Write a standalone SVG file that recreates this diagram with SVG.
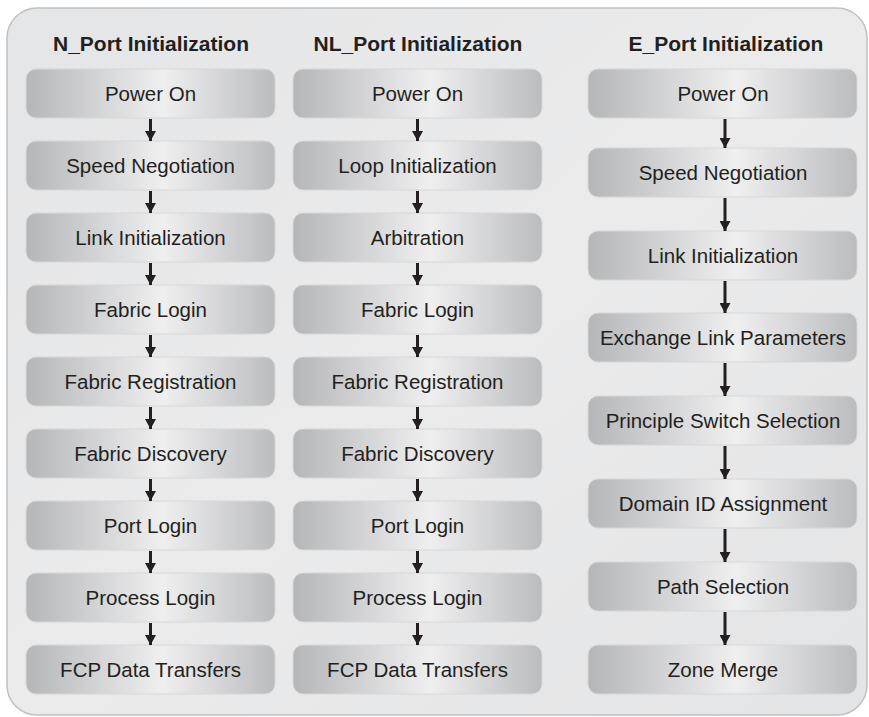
<svg xmlns="http://www.w3.org/2000/svg" width="869" height="717" viewBox="0 0 869 717">
  <defs>
    <linearGradient id="panelFill" x1="0" y1="0" x2="1" y2="1">
      <stop offset="0" stop-color="#e4e5e6"/>
      <stop offset="0.5" stop-color="#ebebec"/>
      <stop offset="1" stop-color="#e3e4e5"/>
    </linearGradient>
    <linearGradient id="boxFill" x1="0" y1="0" x2="1" y2="0">
      <stop offset="0" stop-color="#b5b6b8"/>
      <stop offset="0.55" stop-color="#efeff0"/>
      <stop offset="1" stop-color="#bbbcbe"/>
    </linearGradient>
    <marker id="head" markerUnits="userSpaceOnUse" markerWidth="11" markerHeight="11" refX="10" refY="5.5" orient="auto">
      <path d="M0,0 L10,5.5 L0,11 z" fill="#231f20"/>
    </marker>
    <style>
      .box { fill: url(#boxFill); stroke: #d6d7d8; stroke-width: 1; }
      .lbl { font-family: "Liberation Sans", Arial, sans-serif; font-size: 20.5px; fill: #231f20; text-anchor: middle; }
      .ttl { font-family: "Liberation Sans", Arial, sans-serif; font-size: 21px; font-weight: bold; fill: #231f20; text-anchor: middle; }
      .arr { stroke: #231f20; stroke-width: 3; fill: none; marker-end: url(#head); }
    </style>
  </defs>

  <!-- backing panel -->
  <rect x="7" y="8" width="860" height="707" rx="30" ry="30" fill="url(#panelFill)" stroke="#bfc0c1" stroke-width="1.5"/>

  <!-- column headings -->
  <text class="ttl" x="151" y="51">N_Port Initialization</text>
  <text class="ttl" x="418" y="51">NL_Port Initialization</text>
  <text class="ttl" x="726" y="51">E_Port Initialization</text>

  <!-- N_Port column -->
  <g id="n-power-on"><rect class="box" x="26" y="69" width="249" height="49" rx="10"/><text class="lbl" x="150.5" y="100.5">Power On</text></g>
  <g id="n-speed-negotiation"><rect class="box" x="26" y="141" width="249" height="49" rx="10"/><text class="lbl" x="150.5" y="172.5">Speed Negotiation</text></g>
  <g id="n-link-init"><rect class="box" x="26" y="213" width="249" height="49" rx="10"/><text class="lbl" x="150.5" y="244.5">Link Initialization</text></g>
  <g id="n-fabric-login"><rect class="box" x="26" y="285" width="249" height="49" rx="10"/><text class="lbl" x="150.5" y="316.5">Fabric Login</text></g>
  <g id="n-fabric-registration"><rect class="box" x="26" y="357" width="249" height="49" rx="10"/><text class="lbl" x="150.5" y="388.5">Fabric Registration</text></g>
  <g id="n-fabric-discovery"><rect class="box" x="26" y="429" width="249" height="49" rx="10"/><text class="lbl" x="150.5" y="460.5">Fabric Discovery</text></g>
  <g id="n-port-login"><rect class="box" x="26" y="501" width="249" height="49" rx="10"/><text class="lbl" x="150.5" y="532.5">Port Login</text></g>
  <g id="n-process-login"><rect class="box" x="26" y="573" width="249" height="49" rx="10"/><text class="lbl" x="150.5" y="604.5">Process Login</text></g>
  <g id="n-fcp-data"><rect class="box" x="26" y="645" width="249" height="49" rx="10"/><text class="lbl" x="150.5" y="676.5">FCP Data Transfers</text></g>

  <!-- NL_Port column -->
  <g id="nl-power-on"><rect class="box" x="293" y="69" width="249" height="49" rx="10"/><text class="lbl" x="417.5" y="100.5">Power On</text></g>
  <g id="nl-loop-init"><rect class="box" x="293" y="141" width="249" height="49" rx="10"/><text class="lbl" x="417.5" y="172.5">Loop Initialization</text></g>
  <g id="nl-arbitration"><rect class="box" x="293" y="213" width="249" height="49" rx="10"/><text class="lbl" x="417.5" y="244.5">Arbitration</text></g>
  <g id="nl-fabric-login"><rect class="box" x="293" y="285" width="249" height="49" rx="10"/><text class="lbl" x="417.5" y="316.5">Fabric Login</text></g>
  <g id="nl-fabric-registration"><rect class="box" x="293" y="357" width="249" height="49" rx="10"/><text class="lbl" x="417.5" y="388.5">Fabric Registration</text></g>
  <g id="nl-fabric-discovery"><rect class="box" x="293" y="429" width="249" height="49" rx="10"/><text class="lbl" x="417.5" y="460.5">Fabric Discovery</text></g>
  <g id="nl-port-login"><rect class="box" x="293" y="501" width="249" height="49" rx="10"/><text class="lbl" x="417.5" y="532.5">Port Login</text></g>
  <g id="nl-process-login"><rect class="box" x="293" y="573" width="249" height="49" rx="10"/><text class="lbl" x="417.5" y="604.5">Process Login</text></g>
  <g id="nl-fcp-data"><rect class="box" x="293" y="645" width="249" height="49" rx="10"/><text class="lbl" x="417.5" y="676.5">FCP Data Transfers</text></g>

  <!-- E_Port column -->
  <g id="e-power-on"><rect class="box" x="588" y="69" width="269" height="49" rx="10"/><text class="lbl" x="723" y="100.5">Power On</text></g>
  <g id="e-speed-negotiation"><rect class="box" x="588" y="148" width="269" height="49" rx="10"/><text class="lbl" x="723" y="179.5">Speed Negotiation</text></g>
  <g id="e-link-init"><rect class="box" x="588" y="231" width="269" height="49" rx="10"/><text class="lbl" x="723" y="262.5">Link Initialization</text></g>
  <g id="e-exchange-link-params"><rect class="box" x="588" y="313" width="269" height="49" rx="10"/><text class="lbl" x="723" y="344.5">Exchange Link Parameters</text></g>
  <g id="e-principle-switch"><rect class="box" x="588" y="396" width="269" height="49" rx="10"/><text class="lbl" x="723" y="427.5">Principle Switch Selection</text></g>
  <g id="e-domain-id"><rect class="box" x="588" y="479" width="269" height="49" rx="10"/><text class="lbl" x="723" y="510.5">Domain ID Assignment</text></g>
  <g id="e-path-selection"><rect class="box" x="588" y="562" width="269" height="49" rx="10"/><text class="lbl" x="723" y="593.5">Path Selection</text></g>
  <g id="e-zone-merge"><rect class="box" x="588" y="645" width="269" height="49" rx="10"/><text class="lbl" x="723" y="676.5">Zone Merge</text></g>

  <!-- connectors -->
  <g id="connectors">
    <line class="arr" x1="150.5" y1="119" x2="150.5" y2="141"/>
    <line class="arr" x1="150.5" y1="191" x2="150.5" y2="213"/>
    <line class="arr" x1="150.5" y1="263" x2="150.5" y2="285"/>
    <line class="arr" x1="150.5" y1="335" x2="150.5" y2="357"/>
    <line class="arr" x1="150.5" y1="407" x2="150.5" y2="429"/>
    <line class="arr" x1="150.5" y1="479" x2="150.5" y2="501"/>
    <line class="arr" x1="150.5" y1="551" x2="150.5" y2="573"/>
    <line class="arr" x1="150.5" y1="623" x2="150.5" y2="645"/>

    <line class="arr" x1="417.5" y1="119" x2="417.5" y2="141"/>
    <line class="arr" x1="417.5" y1="191" x2="417.5" y2="213"/>
    <line class="arr" x1="417.5" y1="263" x2="417.5" y2="285"/>
    <line class="arr" x1="417.5" y1="335" x2="417.5" y2="357"/>
    <line class="arr" x1="417.5" y1="407" x2="417.5" y2="429"/>
    <line class="arr" x1="417.5" y1="479" x2="417.5" y2="501"/>
    <line class="arr" x1="417.5" y1="551" x2="417.5" y2="573"/>
    <line class="arr" x1="417.5" y1="623" x2="417.5" y2="645"/>

    <line class="arr" x1="725" y1="119" x2="725" y2="148"/>
    <line class="arr" x1="725" y1="198" x2="725" y2="231"/>
    <line class="arr" x1="725" y1="281" x2="725" y2="313"/>
    <line class="arr" x1="725" y1="363" x2="725" y2="396"/>
    <line class="arr" x1="725" y1="446" x2="725" y2="479"/>
    <line class="arr" x1="725" y1="529" x2="725" y2="562"/>
    <line class="arr" x1="725" y1="612" x2="725" y2="645"/>
  </g>
</svg>
